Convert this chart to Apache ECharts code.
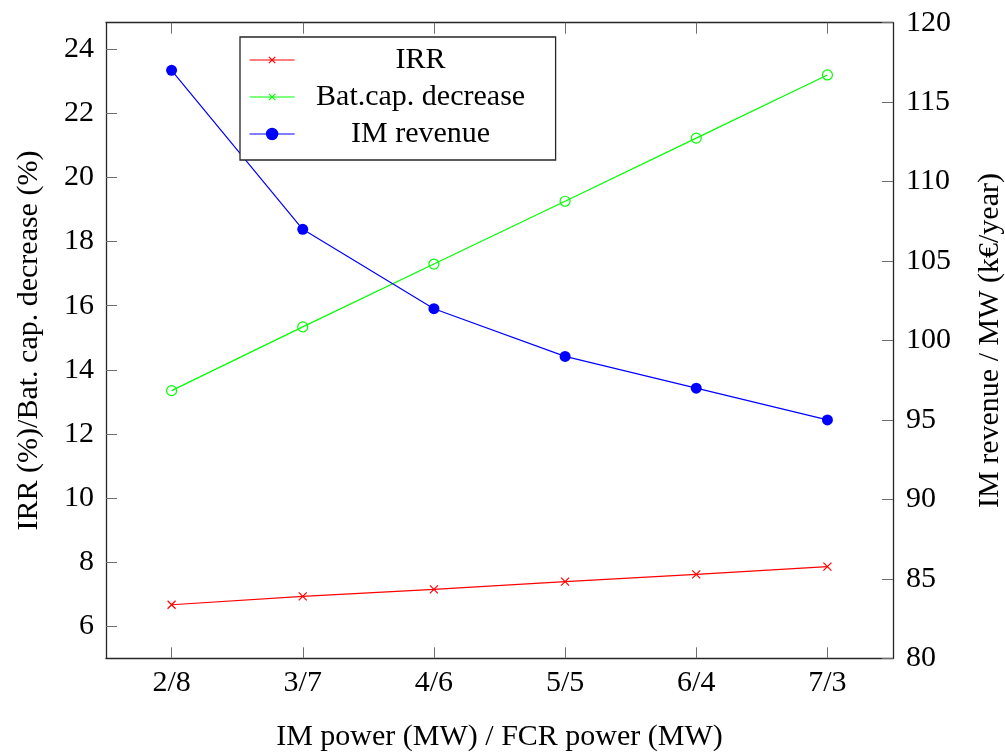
<!DOCTYPE html>
<html>
<head>
<meta charset="utf-8">
<script src="https://cdn.jsdelivr.net/npm/echarts@6/dist/echarts.min.js"></script>
<style>
  html, body { margin: 0; padding: 0; background: #fff; }
  #chart { width: 1005px; height: 754px; }
</style>
</head>
<body>
<div id="chart"></div>
<script>
// Power split between intraday market (IM) and FCR, in MW
const categories = ['2/8', '3/7', '4/6', '5/5', '6/4', '7/3'];

// Left axis values (%)
const irr = [6.67, 6.93, 7.15, 7.39, 7.62, 7.86];
const batCapDecrease = [13.35, 15.34, 17.30, 19.26, 21.23, 23.20];

// Right axis values (k€/year per MW)
const imRevenue = [117, 107, 102, 99, 97, 95];

// Tick labels
const leftTicks = [6, 8, 10, 12, 14, 16, 18, 20, 22, 24];

const FONT = 'Liberation Serif';
const FS = 30;
const AXIS_COLOR = '#262626';
const TICK_COLOR = '#6e6e6e';

// Stroked cross; the leading moves widen the box so the cross sits smaller inside it
const CROSS = 'path://M0,0M14,14M3,3L11,11M11,3L3,11';

const labelStyle = { color: '#000', fontFamily: FONT, fontSize: FS };

const chart = echarts.init(document.getElementById('chart'), null, { renderer: 'canvas' });

chart.setOption({
  backgroundColor: '#fff',
  animation: false,
  grid: { left: 106, right: 112, top: 22.7, bottom: 95.7, containLabel: false, outerBoundsMode: 'none' },
  legend: {
    orient: 'vertical',
    left: 240,
    top: 37,
    padding: [8, 14, 11, 9],
    itemWidth: 45,
    itemHeight: 14,
    itemGap: 7,
    backgroundColor: '#fff',
    borderColor: AXIS_COLOR,
    borderWidth: 1.3,
    borderRadius: 0,
    data: ['IRR', 'Bat.cap. decrease', 'IM revenue'],
    itemStyle: { borderWidth: 1.2 },
    lineStyle: { width: 1.2 },
    formatter: name => '{t|' + name + '}',
    textStyle: {
      color: '#000',
      fontFamily: FONT,
      fontSize: FS,
      rich: { t: { width: 242, align: 'center', fontFamily: FONT, fontSize: FS, lineHeight: 30, color: '#000' } }
    }
  },
  xAxis: [
    {
      type: 'category',
      position: 'bottom',
      data: categories,
      boundaryGap: true,
      name: 'IM power (MW) / FCR power (MW)',
      nameLocation: 'middle',
      nameGap: 64,
      nameTextStyle: labelStyle,
      axisLine: { show: true, lineStyle: { color: AXIS_COLOR, width: 1.3 } },
      axisTick: { show: true, inside: true, alignWithLabel: true, length: 11, lineStyle: { color: TICK_COLOR, width: 1 } },
      axisLabel: Object.assign({ margin: 10 }, labelStyle),
      splitLine: { show: false }
    },
    {
      type: 'category',
      position: 'top',
      data: categories,
      boundaryGap: true,
      axisLine: { show: true, lineStyle: { color: AXIS_COLOR, width: 1.3 } },
      axisTick: { show: true, inside: true, alignWithLabel: true, length: 11, lineStyle: { color: TICK_COLOR, width: 1 } },
      axisLabel: { show: false },
      splitLine: { show: false }
    }
  ],
  yAxis: [
    {
      type: 'value',
      position: 'left',
      min: 5,
      max: 24.83,
      name: 'IRR (%)/Bat. cap. decrease (%)',
      nameLocation: 'middle',
      nameRotate: 90,
      nameGap: 62,
      nameTextStyle: labelStyle,
      axisLine: { show: true, lineStyle: { color: AXIS_COLOR, width: 1.3 } },
      axisTick: { show: true, inside: true, length: 11, customValues: leftTicks, lineStyle: { color: TICK_COLOR, width: 1 } },
      axisLabel: Object.assign({ margin: 12, customValues: leftTicks }, labelStyle),
      splitLine: { show: false }
    },
    {
      type: 'value',
      position: 'right',
      min: 80,
      max: 120,
      interval: 5,
      name: 'IM revenue / MW (k€/year)',
      nameLocation: 'middle',
      nameRotate: 90,
      nameGap: 82,
      nameTextStyle: labelStyle,
      axisLine: { show: true, lineStyle: { color: AXIS_COLOR, width: 1.3 } },
      axisTick: { show: true, inside: true, length: 11, lineStyle: { color: TICK_COLOR, width: 1 } },
      axisLabel: Object.assign({ margin: 13 }, labelStyle),
      splitLine: { show: false }
    }
  ],
  series: [
    {
      name: 'IRR',
      type: 'line',
      xAxisIndex: 0,
      yAxisIndex: 0,
      data: irr,
      symbol: CROSS,
      symbolSize: 14,
      lineStyle: { color: '#ff0000', width: 1.2 },
      itemStyle: { color: '#ff0000', borderColor: '#ff0000', borderWidth: 1.2 },
      z: 3
    },
    // Legend entry for the battery capacity series (cross marker)
    {
      name: 'Bat.cap. decrease',
      type: 'line',
      xAxisIndex: 0,
      yAxisIndex: 0,
      data: [],
      symbol: CROSS,
      symbolSize: 14,
      lineStyle: { color: '#00ff00', width: 1.2 },
      itemStyle: { color: '#00ff00', borderColor: '#00ff00', borderWidth: 1.2 }
    },
    // Battery capacity decrease drawn with hollow circles
    {
      name: 'Bat.cap. decrease',
      type: 'line',
      xAxisIndex: 0,
      yAxisIndex: 0,
      data: batCapDecrease,
      symbol: 'circle',
      symbolSize: 10,
      lineStyle: { color: '#00ff00', width: 1.2 },
      itemStyle: { color: 'rgba(0,0,0,0)', borderColor: '#00ff00', borderWidth: 1.2 },
      z: 3
    },
    {
      name: 'IM revenue',
      type: 'line',
      xAxisIndex: 0,
      yAxisIndex: 1,
      data: imRevenue,
      symbol: 'circle',
      symbolSize: 11,
      lineStyle: { color: '#0000ff', width: 1.2 },
      itemStyle: { color: '#0000ff', borderColor: '#0000ff', borderWidth: 0 },
      z: 3
    }
  ]
});
</script>
</body>
</html>
